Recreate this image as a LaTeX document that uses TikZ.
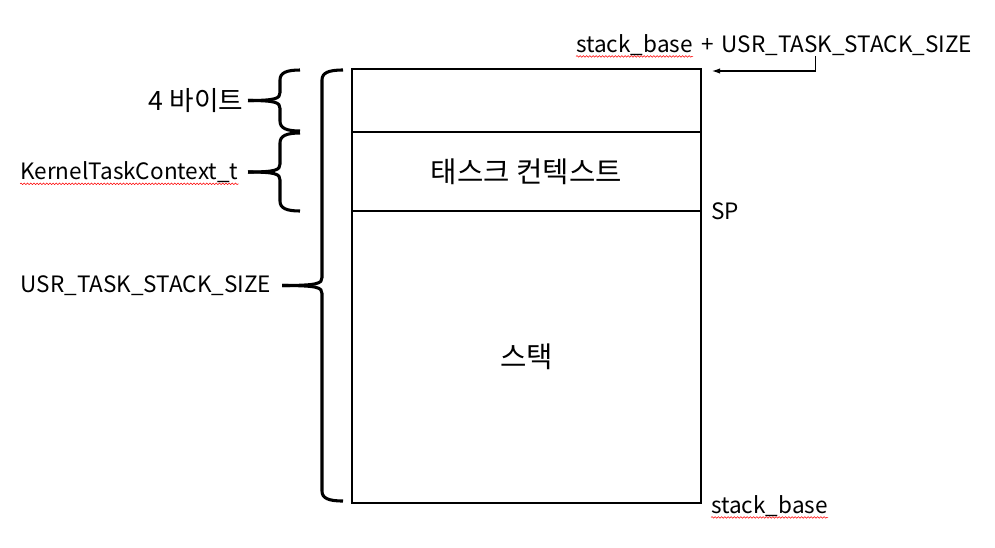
\documentclass[tikz,border=0pt]{standalone}
\usepackage{fontspec}
\setmainfont{Noto Sans CJK KR}
\usetikzlibrary{positioning,calc,arrows.meta,decorations.pathmorphing}

% curly brace: end x, spine x, tip x, top y, bottom y
\newcommand{\membrace}[5]{%
  \draw[brace] (#1,#4) .. controls ({#2+6},#4) and (#2,{#4+3}) .. (#2,{#4+10})
    -- (#2,{(#4+#5)/2-8}) .. controls (#2,{(#4+#5)/2-2}) and ({#2-4},{(#4+#5)/2}) .. (#3,{(#4+#5)/2});
  \draw[brace] (#1,#5) .. controls ({#2+6},#5) and (#2,{#5-3}) .. (#2,{#5-10})
    -- (#2,{(#4+#5)/2+8}) .. controls (#2,{(#4+#5)/2+2}) and ({#2-4},{(#4+#5)/2}) .. (#3,{(#4+#5)/2});
}

\begin{document}
\begin{tikzpicture}[
        x=0.75pt, y=-0.75pt,
        font=\fontsize{16.9}{19}\selectfont,
        kor/.style={font=\fontsize{21.5}{24}\selectfont},
        cell/.style={rectangle, draw, line width=0.8pt, minimum width=261.75pt, outer sep=0pt, inner sep=0pt},
        brace/.style={line width=2.3pt},
        lbl/.style={inner sep=0pt},
        arrow/.style={-{Latex[length=6pt,width=4pt]}, line width=0.8pt},
        squiggle/.style={red, line width=0.4pt, decorate, decoration={snake, amplitude=0.6pt, segment length=2.4pt}}
    ]
        \useasboundingbox (0,0) rectangle (995,547);

        % memory layout
        \node[cell, minimum height=47.25pt, anchor=north west] (slot) at (352,69) {};
        \node[cell, kor, minimum height=59.25pt, below=0pt of slot] (ctx) {태스크 컨텍스트};
        \node[cell, kor, minimum height=219pt, below=0pt of ctx] (stk) {스택};

        % braces and sizes
        \membrace{300}{280}{248}{70}{131}
        \membrace{300}{280}{248}{133}{211}
        \membrace{343}{322}{282}{70}{501}
        \coordinate (tip1) at (248,100.5);
        \coordinate (tip2) at (248,172);
        \coordinate (tip3) at (282,285.5);
        \node[lbl, font=\fontsize{20}{23}\selectfont, left=3.5pt of tip1] (sz1) {4 바이트};
        \node[lbl, left=7pt of tip2] (sz2) {KernelTaskContext\_t};
        \node[lbl, left=8pt of tip3] (sz3) {USR\_TASK\_STACK\_SIZE};

        % addresses
        \node[lbl, anchor=base west] (topbase) at (576,52) {stack\_base};
        \node[lbl, anchor=base west] (topsize) at ($(topbase.base east)+(8,0)$) {+\hspace{6pt}USR\_TASK\_STACK\_SIZE};
        \node[lbl, right=7.5pt of ctx.south east] (sp) {SP};
        \node[lbl, anchor=base west] (botbase) at ($(stk.south east)+(10,10)$) {stack\_base};

        \coordinate (topfrom) at ($(topsize.south west)!0.42!(topsize.south east)+(0,1)$);
        \coordinate (topto) at ($(slot.north east)+(11,2)$);
        \draw[arrow] (topfrom) |- (topto);

        % spell check marks
        \draw[squiggle] ($(topbase.south west)+(0,1)$) -- ($(topbase.south east)+(0,1)$);
        \draw[squiggle] ($(sz2.south west)+(0,1)$) -- ($(sz2.south east)+(0,1)$);
        \draw[squiggle] ($(botbase.south west)+(0,1)$) -- ($(botbase.south east)+(0,1)$);
    \end{tikzpicture}
\end{document}
